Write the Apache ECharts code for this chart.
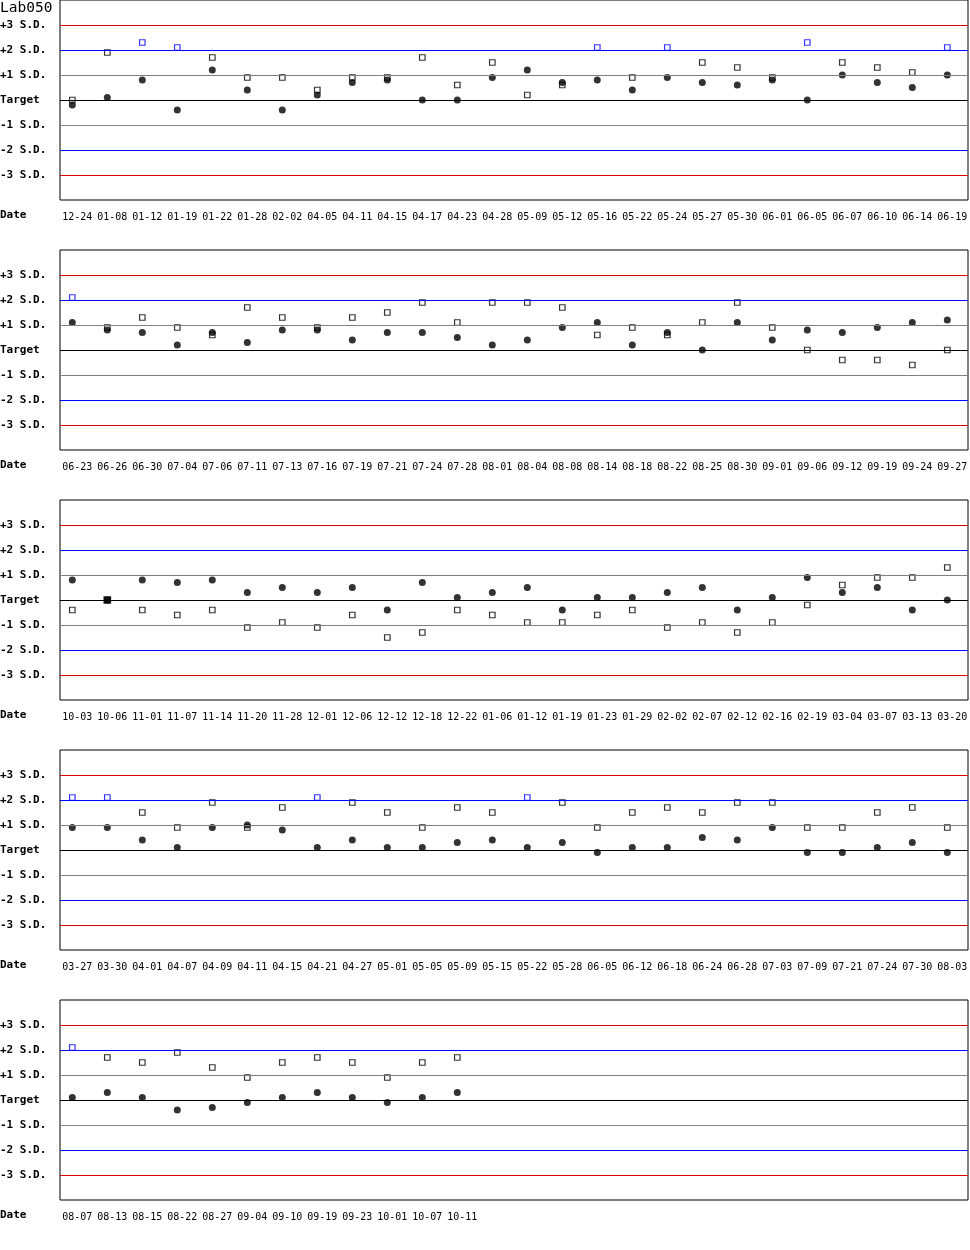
<!DOCTYPE html>
<html>
<head>
<meta charset="utf-8">
<script src="https://cdn.jsdelivr.net/npm/echarts@6/dist/echarts.min.js"></script>
<style>
html,body{margin:0;padding:0;background:#fff;}
#chart{width:970px;height:1250px;}
</style>
</head>
<body>
<div id="chart"></div>
<script>
var chartTitle = 'Lab050';
var yTickValues = [-3, -2, -1, 0, 1, 2, 3];
var yTickLabels = ['-3 S.D.', '-2 S.D.', '-1 S.D.', 'Target', '+1 S.D.', '+2 S.D.', '+3 S.D.'];

var dates1 = ['12-24','01-08','01-12','01-19','01-22','01-28','02-02','04-05','04-11','04-15','04-17','04-23','04-28','05-09','05-12','05-16','05-22','05-24','05-27','05-30','06-01','06-05','06-07','06-10','06-14','06-19'];
var circles1 = [-0.2, 0.1, 0.8, -0.4, 1.2, 0.4, -0.4, 0.2, 0.7, 0.8, 0.0, 0.0, 0.9, 1.2, 0.7, 0.8, 0.4, 0.9, 0.7, 0.6, 0.8, 0.0, 1.0, 0.7, 0.5, 1.0];
var squares1 = [0.0, 1.9, 2.3, 2.1, 1.7, 0.9, 0.9, 0.4, 0.9, 0.9, 1.7, 0.6, 1.5, 0.2, 0.6, 2.1, 0.9, 2.1, 1.5, 1.3, 0.9, 2.3, 1.5, 1.3, 1.1, 2.1];

var dates2 = ['06-23','06-26','06-30','07-04','07-06','07-11','07-13','07-16','07-19','07-21','07-24','07-28','08-01','08-04','08-08','08-14','08-18','08-22','08-25','08-30','09-01','09-06','09-12','09-19','09-24','09-27'];
var circles2 = [1.1, 0.8, 0.7, 0.2, 0.7, 0.3, 0.8, 0.8, 0.4, 0.7, 0.7, 0.5, 0.2, 0.4, 0.9, 1.1, 0.2, 0.7, 0.0, 1.1, 0.4, 0.8, 0.7, 0.9, 1.1, 1.2];
var squares2 = [2.1, 0.9, 1.3, 0.9, 0.6, 1.7, 1.3, 0.9, 1.3, 1.5, 1.9, 1.1, 1.9, 1.9, 1.7, 0.6, 0.9, 0.6, 1.1, 1.9, 0.9, 0.0, -0.4, -0.4, -0.6, 0.0];

var dates3 = ['10-03','10-06','11-01','11-07','11-14','11-20','11-28','12-01','12-06','12-12','12-18','12-22','01-06','01-12','01-19','01-23','01-29','02-02','02-07','02-12','02-16','02-19','03-04','03-07','03-13','03-20'];
var circles3 = [0.8, 0.0, 0.8, 0.7, 0.8, 0.3, 0.5, 0.3, 0.5, -0.4, 0.7, 0.1, 0.3, 0.5, -0.4, 0.1, 0.1, 0.3, 0.5, -0.4, 0.1, 0.9, 0.3, 0.5, -0.4, 0.0];
var squares3 = [-0.4, 0.0, -0.4, -0.6, -0.4, -1.1, -0.9, -1.1, -0.6, -1.5, -1.3, -0.4, -0.6, -0.9, -0.9, -0.6, -0.4, -1.1, -0.9, -1.3, -0.9, -0.2, 0.6, 0.9, 0.9, 1.3];

var dates4 = ['03-27','03-30','04-01','04-07','04-09','04-11','04-15','04-21','04-27','05-01','05-05','05-09','05-15','05-22','05-28','06-05','06-12','06-18','06-24','06-28','07-03','07-09','07-21','07-24','07-30','08-03'];
var circles4 = [0.9, 0.9, 0.4, 0.1, 0.9, 1.0, 0.8, 0.1, 0.4, 0.1, 0.1, 0.3, 0.4, 0.1, 0.3, -0.1, 0.1, 0.1, 0.5, 0.4, 0.9, -0.1, -0.1, 0.1, 0.3, -0.1];
var squares4 = [2.1, 2.1, 1.5, 0.9, 1.9, 0.9, 1.7, 2.1, 1.9, 1.5, 0.9, 1.7, 1.5, 2.1, 1.9, 0.9, 1.5, 1.7, 1.5, 1.9, 1.9, 0.9, 0.9, 1.5, 1.7, 0.9];

var dates5 = ['08-07','08-13','08-15','08-22','08-27','09-04','09-10','09-19','09-23','10-01','10-07','10-11'];
var circles5 = [0.1, 0.3, 0.1, -0.4, -0.3, -0.1, 0.1, 0.3, 0.1, -0.1, 0.1, 0.3];
var squares5 = [2.1, 1.7, 1.5, 1.9, 1.3, 0.9, 1.5, 1.7, 1.5, 0.9, 1.5, 1.7];

var panels = [
  {dates: dates1, circles: circles1, squares: squares1},
  {dates: dates2, circles: circles2, squares: squares2},
  {dates: dates3, circles: circles3, squares: squares3},
  {dates: dates4, circles: circles4, squares: squares4},
  {dates: dates5, circles: circles5, squares: squares5}
];

var FONT = '"DejaVu Sans Mono", monospace';
var PANEL_STEP = 250, PANEL_H = 200, GRID_LEFT = 60, GRID_W = 908;
var STEP_PX = 35, FIRST_PX = 12.3;
var xMin = -FIRST_PX / STEP_PX;
var xMax = xMin + GRID_W / STEP_PX;

var refLines = [
  {v: 3, c: '#dd0000'}, {v: 2, c: '#0000ff'}, {v: 1, c: '#808080'},
  {v: 0, c: '#000000'},
  {v: -1, c: '#808080'}, {v: -2, c: '#0000ff'}, {v: -3, c: '#dd0000'}
];

var grids = [], xAxes = [], yAxes = [], series = [], graphics = [];
panels.forEach(function (p, k) {
  grids.push({left: GRID_LEFT, width: GRID_W, top: k * PANEL_STEP, height: PANEL_H,
    outerBoundsMode: 'none', containLabel: false,
    show: true, borderColor: '#000', borderWidth: 1, backgroundColor: 'transparent'});
  var idx = p.dates.map(function (d, i) { return i; });
  xAxes.push({type: 'value', gridIndex: k, min: xMin, max: xMax,
    axisLine: {show: false}, axisTick: {show: false}, splitLine: {show: false},
    axisLabel: {customValues: idx, fontFamily: FONT, fontSize: 10, color: '#000', margin: 12,
      padding: [0, 0, 0, 10], hideOverlap: false,
      formatter: (function (dates) { return function (v) { var i = Math.round(v); return dates[i] || ''; }; })(p.dates)}
  });
  yAxes.push({type: 'value', gridIndex: k, min: -4, max: 4, interval: 1,
    axisLine: {show: false}, axisTick: {show: false}, splitLine: {show: false},
    axisLabel: {customValues: yTickValues, align: 'left', margin: GRID_LEFT, fontFamily: FONT,
      fontSize: 11, fontWeight: 'bold', color: '#000',
      formatter: function (v) { var i = yTickValues.indexOf(Math.round(v)); return i >= 0 ? yTickLabels[i] : ''; }}
  });
  series.push({type: 'line', xAxisIndex: k, yAxisIndex: k, data: [], silent: true, z: 1,
    markLine: {silent: true, symbol: ['none', 'none'], label: {show: false}, animation: false,
      data: refLines.map(function (r) { return {yAxis: r.v, lineStyle: {color: r.c, width: 1, type: 'solid'}}; })}
  });
  series.push({type: 'scatter', xAxisIndex: k, yAxisIndex: k, z: 3, symbol: 'rect', symbolSize: 5.5,
    data: p.squares.map(function (v, i) {
      var same = v === p.circles[i];
      var col = v > 2 ? '#0000ff' : '#000000';
      return {value: [i, v], itemStyle: {color: same ? '#000' : 'rgba(0,0,0,0)', borderColor: col, borderWidth: 1.2},
        symbolSize: same ? 6.5 : 5.5};
    })
  });
  series.push({type: 'scatter', xAxisIndex: k, yAxisIndex: k, z: 4, symbol: 'circle', symbolSize: 7,
    itemStyle: {color: '#000'},
    data: p.circles.map(function (v, i) { return [i, v]; })
  });
  graphics.push({type: 'text', left: 0, top: k * PANEL_STEP + PANEL_H + 10,
    style: {text: 'Date', font: 'bold 11px ' + FONT, fill: '#000'}});
});

var chart = echarts.init(document.getElementById('chart'), null, {renderer: 'canvas'});
chart.setOption({
  animation: false,
  backgroundColor: '#fff',
  title: {text: chartTitle, left: 0, top: 1, padding: 0,
    textStyle: {fontFamily: FONT, fontSize: 14.5, fontWeight: 'normal', color: '#000'}},
  grid: grids,
  xAxis: xAxes,
  yAxis: yAxes,
  series: series,
  graphic: graphics
});
</script>
</body>
</html>
